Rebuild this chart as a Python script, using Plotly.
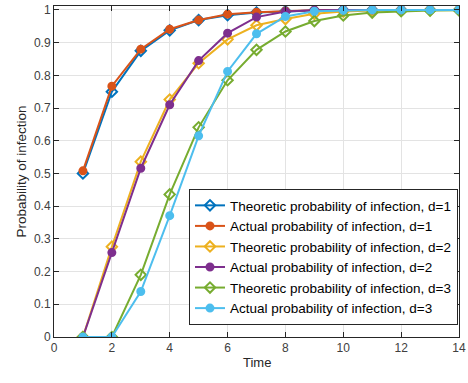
import plotly.graph_objects as go

time = list(range(1, 15))
theo_d1 = [0.50, 0.75, 0.875, 0.9375, 0.969, 0.984, 0.992, 0.996, 0.998, 0.999, 1.0, 1.0, 1.0, 1.0]
act_d1 = [0.508, 0.767, 0.880, 0.941, 0.969, 0.987, 0.993, 0.997, 0.999, 1.0, 1.0, 1.0, 1.0, 1.0]
theo_d2 = [0.0, 0.276, 0.536, 0.726, 0.837, 0.910, 0.953, 0.972, 0.988, 0.995, 0.998, 0.999, 1.0, 1.0]
act_d2 = [0.0, 0.258, 0.516, 0.710, 0.845, 0.929, 0.978, 0.995, 0.999, 1.0, 1.0, 1.0, 1.0, 1.0]
theo_d3 = [0.0, 0.0, 0.190, 0.436, 0.641, 0.785, 0.878, 0.934, 0.966, 0.983, 0.992, 0.996, 0.998, 0.999]
act_d3 = [0.0, 0.0, 0.139, 0.371, 0.615, 0.812, 0.927, 0.980, 0.996, 0.999, 1.0, 1.0, 1.0, 1.0]

y_ticks = [i / 10 for i in range(11)]
y_ticktext = ["0", "0.1", "0.2", "0.3", "0.4", "0.5", "0.6", "0.7", "0.8", "0.9", "1"]

series = [
    ("Theoretic probability of infection, d=1", theo_d1, "#0072BD", "diamond-open"),
    ("Actual probability of infection, d=1", act_d1, "#D95319", "circle"),
    ("Theoretic probability of infection, d=2", theo_d2, "#EDB120", "diamond-open"),
    ("Actual probability of infection, d=2", act_d2, "#7E2F8E", "circle"),
    ("Theoretic probability of infection, d=3", theo_d3, "#77AC30", "diamond-open"),
    ("Actual probability of infection, d=3", act_d3, "#4DBEEE", "circle"),
]

FONT = "Liberation Sans, Arial"

fig = go.Figure()
for name, ys, color, sym in series:
    fig.add_trace(go.Scatter(
        x=time, y=ys, name=name, mode="lines+markers",
        line=dict(color=color, width=2),
        marker=dict(symbol=sym, size=8 if "diamond" in sym else 7, color=color,
                    line=dict(color=color, width=2)),
    ))

axis_common = dict(
    showline=True, linecolor="#262626", linewidth=1, mirror="ticks",
    ticks="inside", ticklen=5, tickcolor="#262626",
    showgrid=True, gridcolor="#e3e3e3", gridwidth=1, zeroline=False,
    tickfont=dict(family=FONT, size=12, color="#404040"),
    automargin=False,
)

fig.update_xaxes(range=[0, 14], dtick=2, tick0=0, **axis_common)
fig.update_yaxes(range=[0, 1.012], tickvals=y_ticks, ticktext=y_ticktext,
                 title=dict(text="Probability of infection", font=dict(family=FONT, size=13.5, color="#262626"), standoff=4),
                 **axis_common)

fig.add_annotation(text="Time", xref="paper", yref="paper", x=0.5, y=-0.076,
                   xanchor="center", yanchor="middle", showarrow=False,
                   font=dict(family=FONT, size=13, color="#262626"))

fig.update_layout(
    width=468, height=383,
    margin=dict(l=54, r=9, t=6, b=46),
    plot_bgcolor="white", paper_bgcolor="white",
    font=dict(family=FONT, size=12, color="#262626"),
    legend=dict(
        x=0.9975, xanchor="right", y=0.036, yanchor="bottom",
        bgcolor="white", bordercolor="#262626", borderwidth=1,
        font=dict(family=FONT, size=13.5, color="#000000"),
        tracegroupgap=0, itemwidth=30,
    ),
)

fig.write_html(
    "out.html",
    config={"displayModeBar": False},
    post_script="document.body.style.margin='0px';document.body.style.overflow='hidden';",
)
